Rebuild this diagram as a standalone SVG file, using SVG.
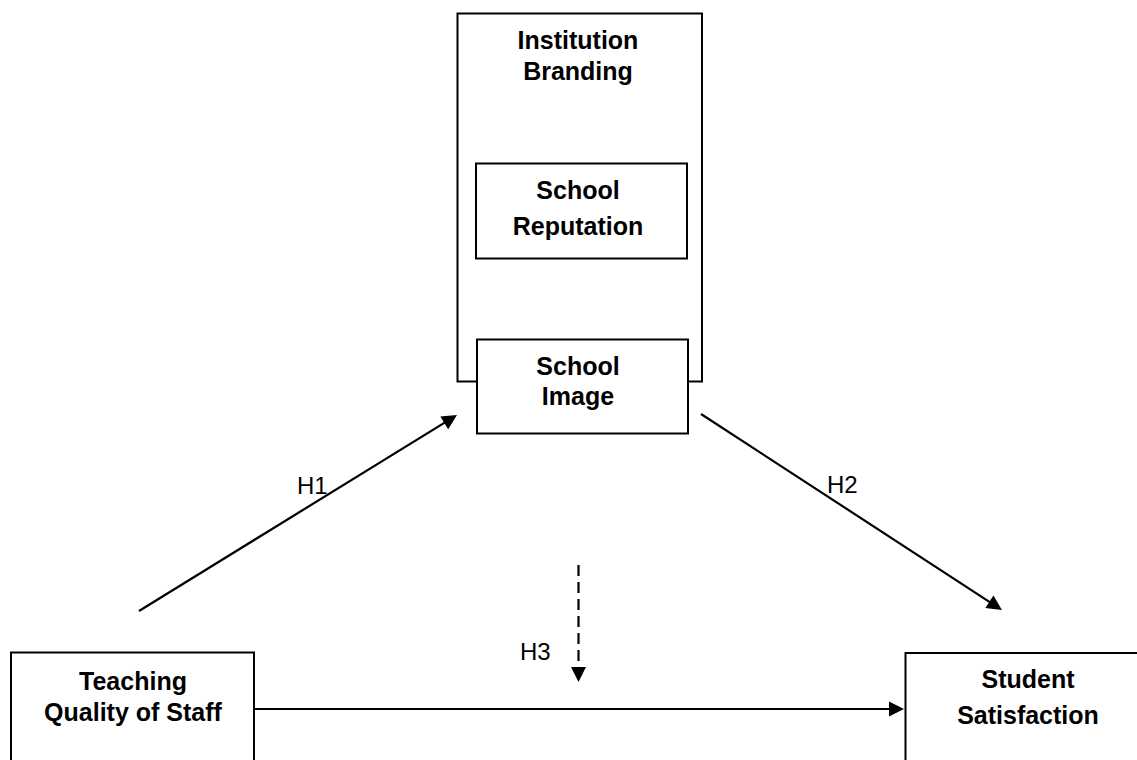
<svg xmlns="http://www.w3.org/2000/svg" width="1137" height="760" viewBox="0 0 1137 760">
<style>
.box{fill:#fff;stroke:#000;stroke-width:2}
.lbl{font-family:"Liberation Sans",Arial,sans-serif;font-weight:bold;font-size:25px;text-anchor:middle;fill:#000}
.h{font-family:"Liberation Sans",Arial,sans-serif;font-size:24px;fill:#000}
.con{fill:none;stroke:#000;stroke-width:2.2}
</style>
<defs>
<marker id="arr" markerUnits="userSpaceOnUse" markerWidth="15" markerHeight="15" refX="11" refY="7.5" orient="auto" overflow="visible">
<path d="M0,0 L15,7.5 L0,15 z" fill="#000"/>
</marker>
</defs>
<rect width="1137" height="760" fill="#fff"/>
<g id="institution-branding">
<rect class="box" x="457.5" y="13.5" width="244.5" height="368"/>
<text class="lbl" x="578" y="49">Institution</text>
<text class="lbl" x="578" y="80">Branding</text>
</g>
<g id="school-reputation">
<rect class="box" x="476" y="163.5" width="211" height="95"/>
<text class="lbl" x="578" y="199">School</text>
<text class="lbl" x="578" y="235">Reputation</text>
</g>
<g id="school-image">
<rect class="box" x="477" y="339.5" width="211" height="94"/>
<text class="lbl" x="578" y="375">School</text>
<text class="lbl" x="578" y="405">Image</text>
</g>
<g id="teaching-quality">
<rect class="box" x="11" y="652.5" width="243" height="130"/>
<text class="lbl" x="133" y="690">Teaching</text>
<text class="lbl" x="133" y="721">Quality of Staff</text>
</g>
<g id="student-satisfaction">
<rect class="box" x="905.5" y="653" width="260" height="130"/>
<text class="lbl" x="1028" y="688">Student</text>
<text class="lbl" x="1028" y="724">Satisfaction</text>
</g>
<g id="connectors">
<line class="con" x1="139" y1="611" x2="453.6" y2="417.1" marker-end="url(#arr)"/>
<line class="con" x1="701" y1="414" x2="998.6" y2="607.8" marker-end="url(#arr)"/>
<line class="con" x1="578.5" y1="565" x2="578.5" y2="678" stroke-dasharray="11,6" marker-end="url(#arr)"/>
<line class="con" x1="254" y1="709" x2="900" y2="709" marker-end="url(#arr)"/>
<text class="h" x="297" y="494">H1</text>
<text class="h" x="827" y="493">H2</text>
<text class="h" x="520" y="660">H3</text>
</g>
</svg>
